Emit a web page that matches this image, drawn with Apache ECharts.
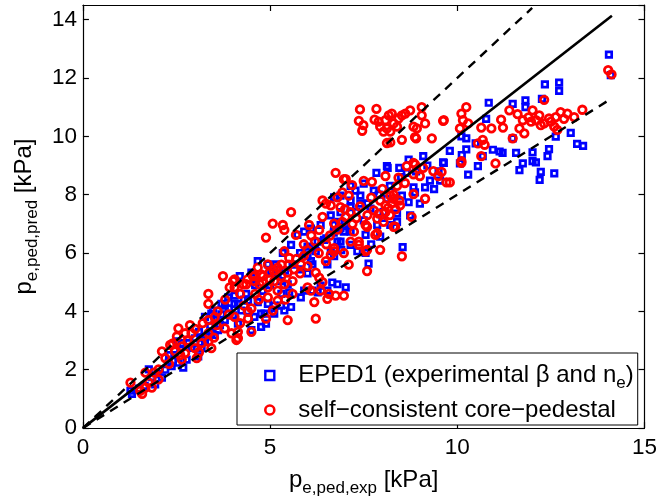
<!DOCTYPE html>
<html>
<head>
<meta charset="utf-8">
<script src="https://cdn.jsdelivr.net/npm/echarts@6/dist/echarts.min.js"></script>
<style>
  html, body { margin: 0; padding: 0; background: #fff; }
  #chart { width: 660px; height: 502px; }
</style>
</head>
<body>
<div id="chart"></div>
<script>
// Axis ranges and tick steps (kPa)
const xRange = [0, 15];
const xStep = 5;
const yRange = [0, 14.5];
const yStep = 2;

// Reference lines: p_pred = p_exp, and the +/-20% band
const identityLine = [[0, 0], [14.13, 14.13]];
const upperBand = [[0, 0], [12, 14.4]];
const lowerBand = [[0, 0], [14, 11.2]];

// EPED1 predictions with experimental beta and n_e  [p_exp, p_pred]
const eped1Points = [
  [14.05,12.8],[14.1,12.1],[12.34,11.78],[12.72,11.84],[12.72,11.56],[12.26,11.28],[11.82,11.23],[11.48,11.11],
  [10.84,11.15],[11.82,11.0],[10.77,10.6],[10.11,10.0],[11.48,9.93],[12.63,9.99],[13.03,10.12],[13.2,9.74],
  [13.36,9.67],[10.24,9.55],[10.12,9.36],[10.07,9.07],[10.55,8.98],[10.29,8.69],[10.95,9.54],[11.13,9.48],
  [11.21,9.43],[11.57,9.43],[12.01,9.45],[12.45,9.56],[12.41,9.32],[11.75,9.07],[12.01,9.15],[12.1,9.11],
  [11.66,8.84],[12.23,8.78],[12.59,8.73],[12.2,8.51],[10.68,9.32],[9.64,9.09],[10.24,9.93],[10.49,9.76],
  [9.09,9.32],[8.7,9.2],[9.62,9.11],[8.14,8.92],[8.45,8.92],[7.84,8.75],[8.65,8.75],[9.27,8.48],
  [9.54,8.48],[9.38,8.19],[9.14,8.25],[8.87,8.08],[8.83,8.25],[8.7,7.74],[9.0,7.69],[7.5,8.38],
  [7.28,8.14],[7.77,8.14],[7.15,8.3],[7.41,7.97],[7.15,7.8],[8.12,7.86],[8.52,7.97],[7.68,7.52],
  [8.03,7.4],[8.39,7.35],[8.74,7.29],[6.88,7.4],[6.84,7.07],[6.97,6.73],[7.5,7.12],[7.86,6.96],
  [8.21,6.96],[8.39,7.07],[7.55,6.62],[7.94,6.56],[8.54,6.2],[6.88,6.39],[7.15,6.28],[7.33,6.06],
  [7.63,5.64],[6.71,5.89],[8.12,8.98],[6.88,7.97],[6.71,7.91],[7.15,7.57],[7.41,7.69],[6.62,7.29],
  [6.71,6.96],[6.88,6.84],[7.15,6.73],[6.8,6.39],[6.35,6.96],[6.09,6.84],[5.91,6.73],[6.27,6.39],
  [5.56,6.28],[6.0,6.22],[6.22,6.06],[7.55,6.0],[6.8,4.93],[7.02,4.82],[6.53,4.71],[6.27,4.65],
  [5.91,4.71],[5.56,4.15],[5.11,4.2],[4.85,3.92],[4.58,3.81],[5.47,4.93],[5.29,5.04],[5.03,5.38],
  [4.67,5.72],[6.09,5.72],[6.44,6.45],[6.84,6.79],[6.62,6.06],[6.0,6.11],[5.73,6.62],[5.34,6.0],
  [4.94,5.61],[5.16,5.61],[4.5,5.33],[4.19,5.21],[4.36,4.6],[4.05,4.54],[3.88,4.48],[3.7,4.26],
  [4.05,4.26],[3.48,4.03],[3.52,3.7],[4.67,4.32],[4.94,4.26],[4.76,3.92],[5.11,3.92],[5.29,4.2],
  [5.82,4.48],[5.51,4.65],[6.13,4.71],[6.66,4.99],[6.35,4.88],[4.5,3.36],[4.76,3.47],[4.14,3.58],
  [3.79,3.7],[3.26,3.02],[3.43,3.25],[4.89,3.58],[5.38,4.03],[6.13,5.61],[5.82,5.44],[6.53,5.61],
  [1.31,1.17],[1.27,1.28],[1.76,2.01],[1.93,1.5],[2.11,1.73],[2.29,2.24],[2.37,2.12],[2.55,2.24],
  [2.68,2.07],[2.77,2.35],[2.51,2.97],[2.64,2.91],[2.82,2.91],[2.99,3.08],[3.08,2.46],[3.17,2.74],
  [3.35,3.14],[3.52,3.19],[3.26,3.81],[3.43,3.92],[3.57,3.75],[4.14,4.26],[3.79,4.2],[4.01,3.86],
  [3.61,3.36],[4.41,4.37],[4.23,4.03],[3.66,3.53],[1.5,1.35],[1.65,1.45],[2.0,1.85],[2.2,2.0],
  [1.85,1.75],[2.45,2.5],[2.9,2.75],[3.1,3.3],
  [2.3,2.5],[2.6,2.7],[3.0,2.9],[3.2,3.1],[3.4,3.5],[3.7,3.9],[3.9,4.1],[4.3,4.4],
  [4.6,4.9],[4.8,4.7],[5.0,4.9],[5.2,5.3],[5.4,5.4],[5.6,5.6],[5.8,6.0],[6.0,5.9],
  [6.2,6.2],[6.5,6.5],[6.7,6.7],[7.0,7.0],[7.3,7.4],[7.6,7.7],[7.9,8.0],[8.2,8.3],
  [8.5,8.6],[8.9,8.8],[9.2,9.0],[4.4,4.0],[5.3,4.6],[6.0,5.3],[6.9,6.1],[7.7,6.3],
  [8.0,7.2],[9.5,8.8],[9.8,9.5]
];

// Self-consistent core-pedestal predictions  [p_exp, p_pred]
const scPoints = [
  [14.03,12.27],[14.12,12.12],
  [7.4,10.92],[7.84,10.94],[7.37,10.53],[7.49,10.38],[7.46,10.19],[7.79,10.57],[7.9,10.5],[7.94,10.33],
  [8.08,10.55],[8.17,10.72],[8.25,10.78],[8.12,10.27],[8.03,10.16],[8.21,10.16],[8.3,10.44],[8.43,10.61],
  [8.52,10.72],[8.61,10.78],[8.74,10.89],[8.39,10.33],[8.21,9.79],[8.52,9.88],[8.87,9.97],[9.32,9.93],
  [8.83,10.33],[8.92,10.27],[9.14,10.44],[9.05,10.72],[9.05,11.0],[9.62,10.53],[10.11,10.78],[10.15,10.55],
  [10.24,11.0],[10.07,10.27],
  [10.29,10.44],[10.64,10.3],[10.91,10.27],[11.17,10.57],[11.22,10.3],[11.39,10.89],[11.61,10.76],[11.75,10.55],
  [12.01,10.89],[11.97,10.5],[12.19,10.72],[12.32,10.44],[12.45,10.61],[12.63,10.66],[12.76,10.83],[12.94,10.78],
  [13.12,10.66],[13.34,10.91],[12.23,10.38],[12.59,10.33],[12.67,10.22],[11.66,10.27],[11.79,10.1],[11.48,9.93],
  [12.32,11.25],[10.68,9.88],[10.55,9.76],[10.73,9.71],[10.64,9.32],[10.11,9.09],[11.02,9.07],[9.8,8.42],
  [9.64,10.55],[9.58,8.78],[11.9,10.65],[12.1,10.55],[12.5,10.5],[12.85,10.6],
  [8.12,9.77],[8.9,9.93],[6.75,8.75],[6.97,8.53],[7.19,8.33],[7.5,8.47],[7.72,8.44],[8.08,8.64],
  [8.43,8.58],[8.65,8.98],[8.87,9.04],[9.09,8.92],[9.0,8.64],[9.36,8.81],[9.49,8.64],[9.71,8.42],
  [10.11,9.15],[6.93,8.08],[7.1,7.97],[6.8,7.91],[8.39,8.3],[8.83,8.02],[9.14,7.86],[8.47,7.63],
  [8.21,7.97],[7.94,7.8],[8.08,7.63],[7.77,7.46],[7.9,7.35],[8.08,7.4],[7.86,7.18],[8.03,7.07],
  [8.78,7.24],[8.34,6.9],[7.24,6.73],[7.59,6.9],[7.86,6.68],[6.71,7.01],[6.71,6.17],[6.97,6.0],
  [7.37,6.39],[7.59,6.11],[7.94,6.11],[8.52,5.89],[6.62,7.63],
  [7.02,8.53],[5.56,7.4],[5.07,7.01],[5.34,6.96],[5.38,6.79],[4.89,6.53],[5.69,6.62],[6.04,6.96],
  [6.31,6.79],[6.4,7.24],[6.4,7.8],[6.49,7.69],[6.88,7.57],[7.02,7.24],[6.93,7.07],[7.15,7.4],
  [7.55,6.96],[7.81,6.62],[8.3,7.86],[8.83,8.7],[8.83,9.09],[7.59,5.38],[8.3,6.9],[7.55,6.06],
  [7.37,6.28],[7.15,6.39],[6.62,5.94],[5.38,6.06],[8.15,7.55],[8.25,7.7],[8.35,7.5],[8.2,7.3],[8.45,7.8],
  [5.51,5.83],[4.67,5.5],[4.81,5.21],[4.58,5.21],[4.98,5.33],[5.2,5.5],[5.47,5.33],[5.64,5.44],
  [5.6,5.04],[5.82,5.61],[6.0,5.55],[6.22,5.33],[6.49,5.72],[6.31,5.16],[6.09,4.71],[6.0,4.82],
  [6.35,4.71],[6.57,4.6],[6.53,4.43],[6.75,4.54],[6.97,4.54],[6.18,4.32],[6.22,3.75],[6.71,6.06],
  [3.74,5.21],[4.01,5.04],[4.05,4.82],[3.35,4.6],[3.35,4.26],[4.58,5.04],[4.72,4.93],[4.94,4.82],
  [5.2,4.71],[5.11,5.04],[5.38,4.93],[4.94,4.48],[4.41,3.98],[4.05,3.81],[4.41,3.75],[3.79,3.42],
  [4.14,3.3],[4.5,3.3],[4.14,3.08],[3.35,3.7],[3.35,3.25],[3.17,2.91],[4.89,3.75],[5.47,3.7],
  [5.07,4.03],[5.2,4.37],
  [4.05,5.1],[4.28,4.93],[3.92,4.82],[3.52,3.81],[3.57,3.53],[2.55,3.42],[2.86,3.53],[2.9,3.25],
  [2.51,3.14],[2.73,3.25],[2.33,2.85],[2.11,2.63],[2.46,2.63],[2.64,2.8],[2.73,2.57],[2.99,2.74],
  [2.64,2.35],[3.04,2.4],[3.43,2.74],[3.35,2.97],[1.67,1.9],[2.02,2.01],[1.76,1.56],[1.67,1.39],
  [1.27,1.56],[1.53,1.28],[1.58,1.17],[1.84,1.39],[2.02,1.67],[3.97,3.25],[4.1,3.02],
  [4.36,4.93],[4.54,5.21],[4.94,5.61],[4.76,5.27],
  [2.2,2.4],[2.4,2.9],[2.8,3.0],[3.0,3.4],[3.2,3.6],[3.5,3.1],[3.6,4.0],[3.8,4.4],
  [3.9,3.9],[4.2,4.6],[4.3,4.2],[4.4,5.1],[4.6,4.6],[4.7,4.4],[4.8,5.0],[5.0,5.1],
  [5.1,5.4],[5.3,5.6],[5.3,5.2],[5.5,5.6],[5.7,5.8],[5.9,5.9],[5.8,5.3],[6.0,6.1],
  [6.2,6.4],[6.3,6.0],[6.5,6.3],[6.6,6.6],[6.1,6.6],[5.9,6.3],[6.8,6.8],[7.0,7.5],
  [7.3,7.2],[7.2,7.0],[7.4,7.6],[7.7,7.9],[7.6,7.3],[8.0,8.2],[8.3,8.0],[8.6,8.4],
  [4.2,3.6],[3.1,2.6],[2.3,2.2],[1.9,1.9],[2.6,2.5],[4.5,4.1],[5.6,4.6],[5.4,4.4],
  [6.4,5.0],[7.1,5.6]
];

const nameEped = 'EPED1 (experimental β and n_e)';
const nameSc = 'self−consistent core−pedestal';

const FONT = 'Liberation Sans, Arial, Helvetica, sans-serif';
const BLUE = '#0000ff';
const RED = '#ff0000';

const chart = echarts.init(document.getElementById('chart'), null, { renderer: 'canvas' });

const richText = {
  g: { width: 19, lineHeight: 30 },
  m: { fontFamily: FONT, fontSize: 24, color: '#000', lineHeight: 30 },
  s: { fontFamily: FONT, fontSize: 17, color: '#000', lineHeight: 30, padding: [16, 0, 0, 0] }
};

function frameAxis(pos, range, step, showLabels) {
  const isX = pos === 'bottom' || pos === 'top';
  return {
    type: 'value',
    position: pos,
    min: range[0],
    max: range[1],
    interval: step,
    axisLine: { show: true, onZero: false, lineStyle: { color: '#000', width: 1.2 } },
    axisTick: { show: true, inside: true, length: 6, lineStyle: { color: '#000', width: 1.2 } },
    axisLabel: {
      show: showLabels,
      color: '#000',
      fontFamily: FONT,
      fontSize: 22.5,
      margin: isX ? 8 : 6,
      showMaxLabel: isX
    },
    splitLine: { show: false }
  };
}

const xBottom = frameAxis('bottom', xRange, xStep, true);
xBottom.name = '{m|p}{s|e,ped,exp}{m| [kPa]}';
xBottom.nameLocation = 'middle';
xBottom.nameGap = 26;
xBottom.nameTextStyle = { rich: richText };

const yLeft = frameAxis('left', yRange, yStep, true);
yLeft.name = '{m|p}{s|e,ped,pred}{m| [kPa]}';
yLeft.nameLocation = 'middle';
yLeft.nameGap = 40;
yLeft.nameRotate = 90;
yLeft.nameTextStyle = { rich: richText };

const xTop = frameAxis('top', xRange, xStep, false);
const yRight = frameAxis('right', yRange, yStep, false);

const refLine = (data, dashed) => ({
  type: 'line',
  data: data,
  symbol: 'none',
  silent: true,
  z: 5,
  lineStyle: { color: '#000', width: dashed ? 2.4 : 2.6, type: dashed ? [9, 7] : 'solid' },
  animation: false
});

chart.setOption({
  animation: false,
  backgroundColor: '#fff',
  grid: { left: 80, top: 5, width: 566, height: 431, containLabel: false },
  xAxis: [xBottom, xTop],
  yAxis: [yLeft, yRight],
  legend: {
    orient: 'vertical',
    left: 237,
    top: 353,
    padding: [6, 4, 3, 27],
    itemGap: 6,
    itemWidth: 9,
    itemHeight: 9,
    backgroundColor: '#fff',
    borderColor: '#000',
    borderWidth: 1,
    borderRadius: 0,
    selectedMode: false,
    data: [
      { name: nameEped, icon: 'rect', itemStyle: { color: 'rgba(0,0,0,0)', borderColor: BLUE, borderWidth: 2.4 } },
      { name: nameSc, icon: 'circle', itemStyle: { color: 'rgba(0,0,0,0)', borderColor: RED, borderWidth: 2.6 } }
    ],
    formatter: function (name) {
      if (name === nameEped) return '{g|}{m|EPED1 (experimental β and n}{s|e}{m|)}';
      return '{g|}{m|' + name + '}';
    },
    textStyle: { rich: richText }
  },
  series: [
    {
      name: nameEped,
      type: 'scatter',
      data: eped1Points,
      symbol: 'rect',
      symbolSize: 5.5,
      z: 2,
      itemStyle: { color: 'rgba(0,0,0,0)', borderColor: BLUE, borderWidth: 2.7, opacity: 1 }
    },
    {
      name: nameSc,
      type: 'scatter',
      data: scPoints,
      symbol: 'circle',
      symbolSize: 7.5,
      z: 3,
      itemStyle: { color: 'rgba(0,0,0,0)', borderColor: RED, borderWidth: 2.8, opacity: 1 }
    },
    refLine(identityLine, false),
    refLine(upperBand, true),
    refLine(lowerBand, true)
  ]
});
</script>
</body>
</html>
